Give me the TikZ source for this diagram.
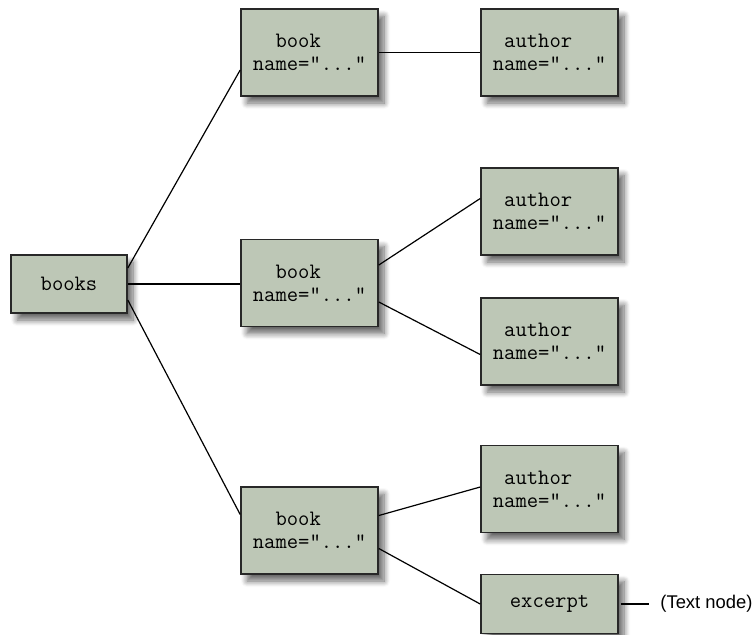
\documentclass[tikz,border=0pt]{standalone}
\usepackage{fontspec}
\setsansfont{Liberation Sans}
\usetikzlibrary{positioning,shadows.blur}
\definecolor{GrisVerde}{RGB}{189,199,182}
\definecolor{BordeOscuro}{RGB}{40,40,40}

\begin{document}
\begin{tikzpicture}[x=0.5pt, y=-0.5pt,
    el/.style={draw=BordeOscuro, line width=0.8pt, fill=GrisVerde, minimum width=68.5pt,
      minimum height=43.5pt, align=left, font=\ttfamily\fontsize{11}{11.6}\selectfont, inner sep=0pt,
      blur shadow={shadow xshift=3pt, shadow yshift=-3.5pt, shadow blur steps=8, shadow blur radius=3pt, shadow opacity=60}},
    raiz/.style={el, minimum width=58pt, minimum height=29pt},
    hoja/.style={el, minimum height=29.5pt},
    con/.style={line width=0.6pt}
  ]
    \useasboundingbox (0,0) rectangle (754,634);
    \node[raiz] (books) at (69,284) {books};
    \node[el] (b1) at (309.5,52.5) {\ \ book\\name="..."};
    \node[el] (b2) at (309.5,283) {\ \ book\\name="..."};
    \node[el] (b3) at (309.5,530.5) {\ \ book\\name="..."};
    \node[el] (a1) at (549.5,52.5) {\ author\\name="..."};
    \node[el] (a2) at (549.5,211.5) {\ author\\name="..."};
    \node[el] (a3) at (549.5,341.5) {\ author\\name="..."};
    \node[el] (a4) at (549.5,489) {\ author\\name="..."};
    \node[hoja] (ex) at (549.5,604) {excerpt};
    \node[font=\sffamily\fontsize{9.2}{11}\selectfont, anchor=west, inner sep=0pt] (tn) at (660,604) {(Text node)};
    % conectores
    \draw[con] ([yshift=8pt]books.east) -- ([yshift=-8.75pt]b1.west);
    \draw[con] (books.east) -- (books.east -| b2.west);
    \draw[con] ([yshift=-8pt]books.east) -- ([yshift=8pt]b3.west);
    \draw[con] (b1.east) -- (a1.west);
    \draw[con] ([yshift=9pt]b2.east) -- ([yshift=6.5pt]a2.west);
    \draw[con] ([yshift=-9.5pt]b2.east) -- ([yshift=-6.5pt]a3.west);
    \draw[con] ([yshift=7.5pt]b3.east) -- ([yshift=1pt]a4.west);
    \draw[con] ([yshift=-9pt]b3.east) -- ([yshift=0pt]ex.west);
    \draw[con] ([xshift=1pt]ex.east) -- ([xshift=-5.5pt]tn.west);
  \end{tikzpicture}
\end{document}
